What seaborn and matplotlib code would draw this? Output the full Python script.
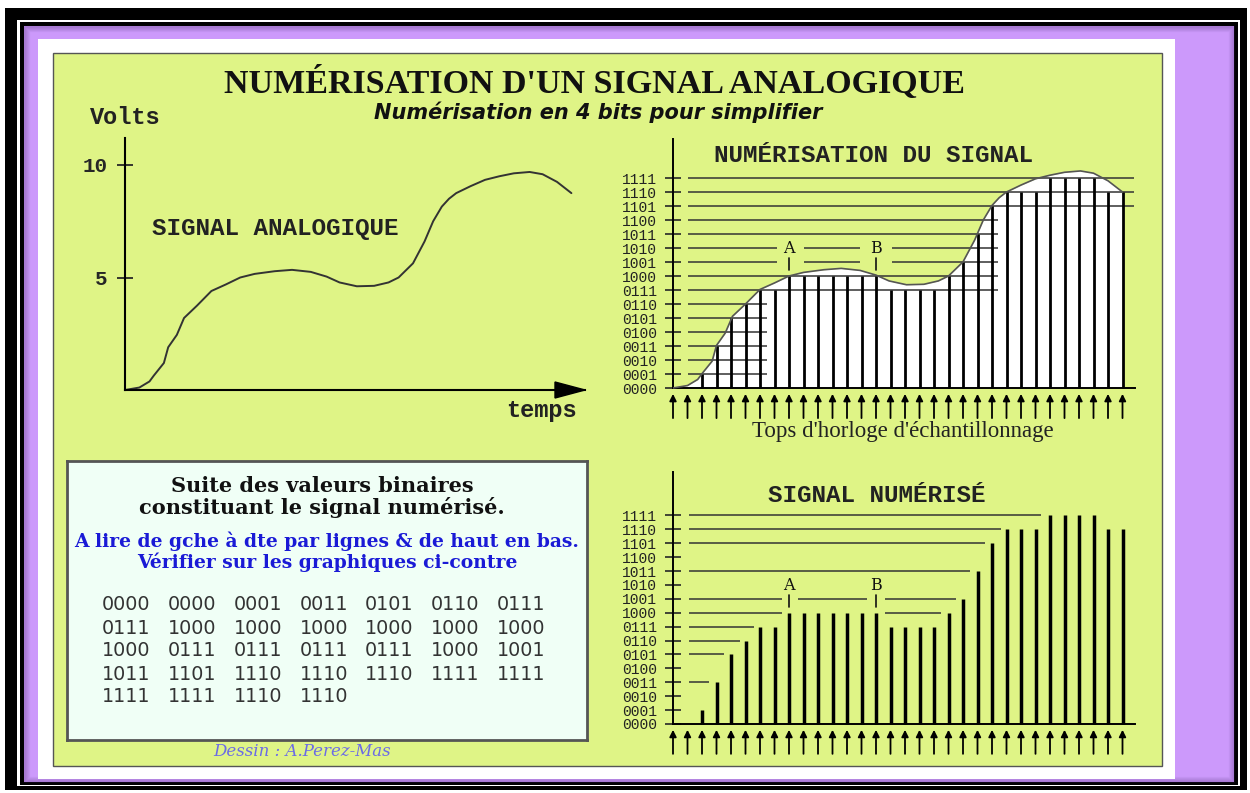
import numpy as np
import matplotlib.pyplot as plt
import seaborn as sns
from matplotlib.patches import Rectangle, Polygon

t_analog = [0, 1, 1.7, 2.0, 2.7, 3.0, 3.6, 4.1, 5, 6, 7, 8, 9, 10.4, 11.6, 12.9, 14,
            14.9, 16.1, 17.3, 18.3, 19, 20, 20.8, 21.4, 22, 22.5, 23, 24, 25, 26, 27,
            28.1, 29, 30, 31]
v_analog = [0, 0.11, 0.38, 0.64, 1.2, 1.9, 2.45, 3.2, 3.75, 4.4, 4.69, 5.0, 5.16,
            5.28, 5.34, 5.25, 5.04, 4.78, 4.61, 4.63, 4.78, 5.0, 5.63, 6.6, 7.5, 8.15,
            8.5, 8.75, 9.06, 9.34, 9.5, 9.63, 9.69, 9.59, 9.25, 8.75]

# valeurs binaires des 32 échantillons
codes = ['0000', '0000', '0001', '0011', '0101', '0110', '0111',
         '0111', '1000', '1000', '1000', '1000', '1000', '1000',
         '1000', '0111', '0111', '0111', '0111', '1000', '1001',
         '1011', '1101', '1110', '1110', '1110', '1111', '1111',
         '1111', '1111', '1110', '1110']

FULL_SCALE = 10   # volts
N_BITS = 4
volt_ticks = [5, 10]
ab_marks = {'A': 8, 'B': 14}

# traits horizontaux du graphique "numérisation du signal" (niveau, début, fin)
top_lvl = [15, 14, 13, 12, 11, 10, 10, 10, 9, 9, 9, 8, 7, 6, 5, 4, 3, 2, 1]
top_x0 = [1.0, 1.0, 1.0, 1.0, 1.0, 1.0, 9.0, 15.1, 1.0, 9.0, 15.1, 1.0, 1.0,
          1.0, 1.0, 1.0, 1.0, 1.0, 1.0]
top_x1 = [31.8, 31.8, 31.8, 22.4, 22.4, 7.2, 12.9, 22.4, 7.2, 12.9, 22.4, 22.4, 22.4,
          6.45, 6.45, 6.45, 6.45, 6.45, 6.45]

# traits horizontaux du graphique "signal numérisé"
bot_lvl = [15, 14, 13, 11, 9, 9, 9, 8, 8, 7, 6, 5, 3]
bot_x0 = [1.1, 1.1, 1.1, 1.1, 1.1, 8.6, 14.6, 1.1, 14.6, 1.1, 1.1, 1.1, 1.1]
bot_x1 = [25.4, 22.6, 21.5, 20.5, 7.55, 13.4, 19.5, 7.55, 18.5, 5.6, 4.6, 3.5, 2.5]

GREEN = '#dff486'
PURPLE = '#cc99fb'
BLUE = '#1a1ad6'
MONO = 'Liberation Mono'
SERIF = 'Liberation Serif'

sns.set_style('white')
plt.rcParams['font.family'] = ['DejaVu Sans']

W, H = 1250, 793
fig = plt.figure(figsize=(W / 100, H / 100), dpi=100)


def px_rect(x0, y0, x1, y1):
    return [x0 / W, 1 - y1 / H, (x1 - x0) / W, (y1 - y0) / H]


# cadre
bg = fig.add_axes([0, 0, 1, 1])
bg.set_xlim(0, W)
bg.set_ylim(H, 0)
bg.axis('off')
frame = [(5, 8, 1247, 790, 'black'), (17, 20, 1240, 786, 'white'),
         (20, 22, 1238, 785, 'black'), (24, 26, 1234, 782, PURPLE)]
for x0, y0, x1, y1, c in frame:
    bg.add_patch(Rectangle((x0, y0), x1 - x0, y1 - y0, color=c, lw=0))
# ombre intérieure du liseré violet
for k in range(6):
    bg.add_patch(Rectangle((24 + k, 26 + k), 1210 - 2 * k, 756 - 2 * k, fill=False,
                           edgecolor='#3a1d5a', lw=1, alpha=0.22 - 0.035 * k))
bg.add_patch(Rectangle((38, 39), 1175 - 38, 779 - 39, color='white', lw=0))
bg.add_patch(Rectangle((53, 53), 1162 - 53, 766 - 53, facecolor=GREEN,
                       edgecolor='#555555', lw=1))

bg.text(595, 83, "NUMÉRISATION D'UN SIGNAL ANALOGIQUE", ha='center', va='center',
        family=SERIF, weight='bold', fontsize=24.5, color='#111111')
bg.text(598, 112, 'Numérisation en 4 bits pour simplifier', ha='center', va='center',
        family='DejaVu Sans', style='italic', weight='bold', fontsize=15,
        color='#111111')
bg.text(125, 117, 'Volts', ha='center', va='center', family=MONO, weight='bold',
        fontsize=17, color='#222222')
bg.text(275, 229, 'SIGNAL ANALOGIQUE', ha='center', va='center', family=MONO,
        weight='bold', fontsize=17.5, color='#222222')
bg.text(541, 411, 'temps', ha='center', va='center', family=MONO, weight='bold',
        fontsize=17, color='#222222')
bg.text(873, 155, 'NUMÉRISATION DU SIGNAL', ha='center', va='center', family=MONO,
        weight='bold', fontsize=17.5, color='#222222')
bg.text(903, 431, "Tops d'horloge d'échantillonnage", ha='center', va='center',
        family=SERIF, fontsize=16.5, color='#222222')
bg.text(877, 496, 'SIGNAL NUMÉRISÉ', ha='center', va='center', family=MONO,
        weight='bold', fontsize=17.5, color='#222222')
bg.text(302, 751, 'Dessin : A.Perez-Mas', ha='center', va='center', family='DejaVu Serif',
        style='italic', fontsize=12, color='#6b6be6')

# graphique du signal analogique
ax_a = fig.add_axes(px_rect(125, 138, 585, 390))
ax_a.set_facecolor('none')
sns.lineplot(x=t_analog, y=v_analog, ax=ax_a, color='#333333', lw=1.4, estimator=None)
ax_a.set_xlim(0, 460 / 14.4)
ax_a.set_ylim(0, 11.2)
ax_a.spines['top'].set_visible(False)
ax_a.spines['right'].set_visible(False)
for s in ['left', 'bottom']:
    ax_a.spines[s].set_linewidth(1.5)
    ax_a.spines[s].set_color('black')
ax_a.set_xticks([])
ax_a.set_yticks(volt_ticks)
ax_a.set_yticklabels([str(v) for v in volt_ticks])
ax_a.tick_params(axis='y', direction='inout', length=11, width=1.3, pad=7,
                 labelsize=15, left=True)
for lab in ax_a.get_yticklabels():
    lab.set_fontfamily(MONO)
    lab.set_fontweight('bold')
ax_a.add_patch(Polygon([[1, 0], [1 - 30 / 460, 8 / 252], [1 - 30 / 460, -8 / 252]],
                       closed=True, transform=ax_a.transAxes, clip_on=False,
                       color='black'))
ax_a.set_xlabel('')
ax_a.set_ylabel('')

samples = np.arange(len(codes))
levels = np.array([int(c, 2) for c in codes])
lv = np.array(v_analog) * 2 ** N_BITS / FULL_SCALE


def digital_axes(rect, ytop):
    ax = fig.add_axes(rect)
    ax.set_facecolor('none')
    ax.set_xlim(0, 462 / 14.5)
    ax.set_ylim(-2.6, ytop)
    ax.spines['top'].set_visible(False)
    ax.spines['right'].set_visible(False)
    ax.spines['bottom'].set_position(('data', 0))
    ax.spines['left'].set_bounds(0, ytop)
    for s in ['left', 'bottom']:
        ax.spines[s].set_linewidth(1.4)
        ax.spines[s].set_color('black')
    ax.set_xticks([])
    ax.set_yticks(range(2 ** N_BITS))
    ax.set_yticklabels([format(i, '04b') for i in range(2 ** N_BITS)])
    ax.tick_params(axis='y', direction='inout', length=11, width=1.2, pad=6,
                   labelsize=10.5, left=True, labelcolor='#222222')
    for lab in ax.get_yticklabels():
        lab.set_fontfamily(MONO)
    for s in samples:
        ax.annotate('', xy=(s, -0.42), xytext=(s, -2.15), annotation_clip=False,
                    arrowprops=dict(arrowstyle='-|>', color='black', lw=1.3,
                                    mutation_scale=10, shrinkA=0, shrinkB=0))
    return ax


# numérisation du signal
ax_q = digital_axes(px_rect(673, 138.8, 1135, 424.4), 17.8)
ax_q.fill_between(t_analog, 0, lv, color='white', lw=0, zorder=1)
ax_q.hlines(top_lvl, top_x0, top_x1, color='#333333', lw=1.1, zorder=2)
ax_q.vlines(samples[levels > 0], 0, levels[levels > 0], color='black', lw=2.0, zorder=3)
sns.lineplot(x=t_analog, y=lv, ax=ax_q, color='#555555', lw=1.2, estimator=None, zorder=4)
ax_q.set_xlabel('')
ax_q.set_ylabel('')

# signal numérisé
ax_d = digital_axes(px_rect(673, 472.4, 1135, 760.1), 18.1)
ax_d.hlines(bot_lvl, bot_x0, bot_x1, color='#333333', lw=1.1, zorder=2)
ax_d.vlines(samples[levels > 0], 0, levels[levels > 0], color='black', lw=2.5, zorder=3)

for ax in [ax_q, ax_d]:
    for name, s in ab_marks.items():
        ax.text(s, 9.95, name, ha='center', va='center', family='DejaVu Serif',
                fontsize=11.5, color='#111111', zorder=5)
        ax.plot([s, s], [8.45, 9.3], color='#111111', lw=1.2, zorder=5)

# encadré des valeurs binaires
ax_b = fig.add_axes(px_rect(67, 461, 587, 740))
ax_b.set_xlim(67, 587)
ax_b.set_ylim(740, 461)
ax_b.set_xticks([])
ax_b.set_yticks([])
ax_b.set_facecolor('#f0fff6')
for s in ax_b.spines.values():
    s.set_color('#555555')
    s.set_linewidth(2)
ax_b.text(322, 486, 'Suite des valeurs binaires', ha='center', va='center',
          family='DejaVu Serif', weight='bold', fontsize=15, color='#111111')
ax_b.text(322, 508, 'constituant le signal numérisé.', ha='center', va='center',
          family='DejaVu Serif', weight='bold', fontsize=15, color='#111111')
ax_b.text(327, 541, 'A lire de gche à dte par lignes & de haut en bas.', ha='center',
          va='center', family='DejaVu Serif', weight='bold', fontsize=13.5, color=BLUE)
ax_b.text(327, 562, 'Vérifier sur les graphiques ci-contre', ha='center', va='center',
          family='DejaVu Serif', weight='bold', fontsize=13.5, color=BLUE)
for i, c in enumerate(codes):
    ax_b.text(102 + 65.8 * (i % 7), 605 + 23 * (i // 7), c, ha='left', va='center',
              family='DejaVu Sans', fontsize=13.8, color='#333333')

fig.savefig('out.png', dpi=100)
